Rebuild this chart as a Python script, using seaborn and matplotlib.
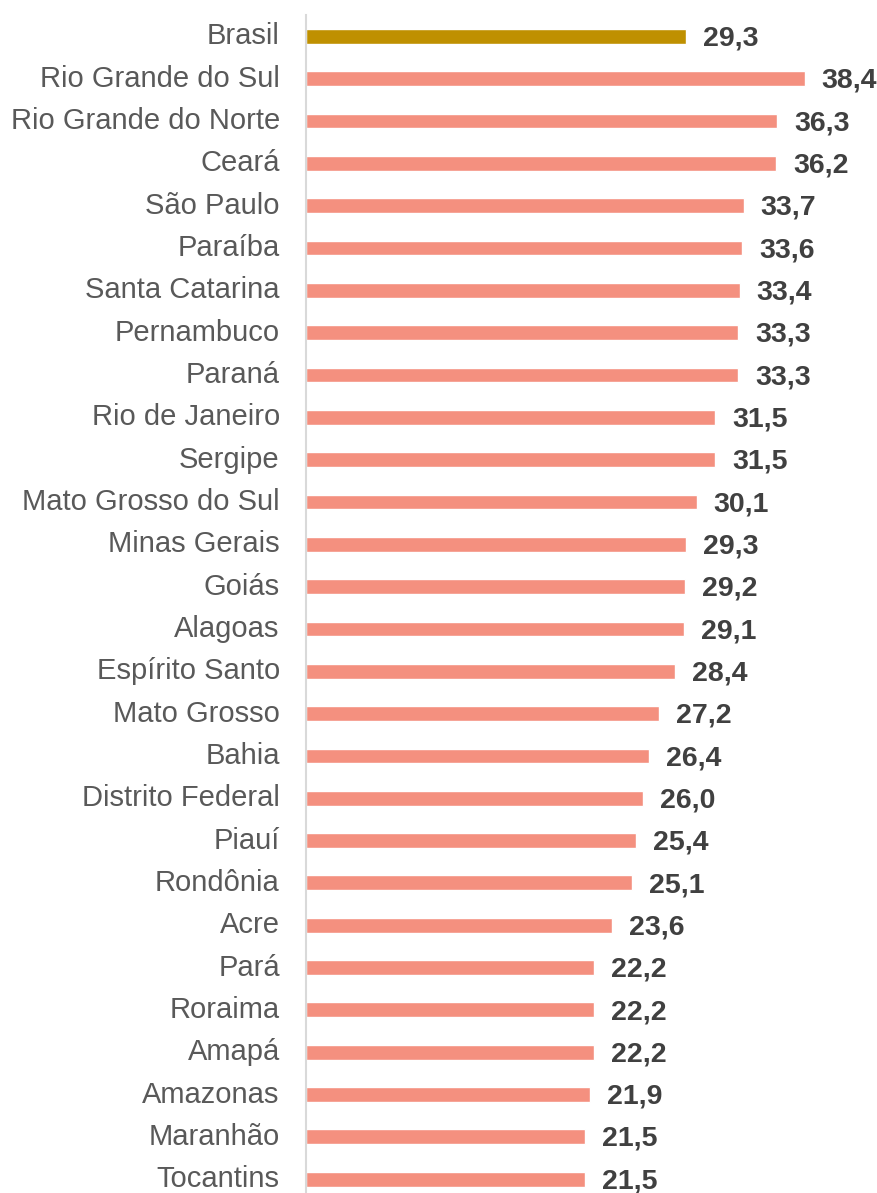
import matplotlib
matplotlib.use("Agg")
import matplotlib.pyplot as plt
import matplotlib.transforms as mtransforms
import seaborn as sns
import pandas as pd

# ---------- Data ----------
states = [
    "Brasil", "Rio Grande do Sul", "Rio Grande do Norte", "Ceará", "São Paulo",
    "Paraíba", "Santa Catarina", "Pernambuco", "Paraná", "Rio de Janeiro",
    "Sergipe", "Mato Grosso do Sul", "Minas Gerais", "Goiás", "Alagoas",
    "Espírito Santo", "Mato Grosso", "Bahia", "Distrito Federal", "Piauí",
    "Rondônia", "Acre", "Pará", "Roraima", "Amapá", "Amazonas", "Maranhão",
    "Tocantins",
]
values = [
    29.3, 38.4, 36.3, 36.2, 33.7, 33.6, 33.4, 33.3, 33.3, 31.5,
    31.5, 30.1, 29.3, 29.2, 29.1, 28.4, 27.2, 26.4, 26.0, 25.4,
    25.1, 23.6, 22.2, 22.2, 22.2, 21.9, 21.5, 21.5,
]
group = ["Brasil" if s == "Brasil" else "UF" for s in states]

BRASIL_COLOR = "#BF9000"
UF_COLOR = "#F4907F"

df = pd.DataFrame({"state": states, "value": values, "group": group})

sns.set_theme(style="white")
plt.rcParams["font.family"] = ["Liberation Sans", "DejaVu Sans"]

W, H = 878, 1193
fig = plt.figure(figsize=(W / 100, H / 100), dpi=100)

# axes placement in pixels: data x=0 at 306 px, row centres at 36.3 + 42.33*i
row_h = 42.33
top_px = 36.3 - row_h / 2
bot_px = top_px + row_h * len(states)
ax = fig.add_axes([305.5 / W, 1 - bot_px / H, 1 - 305.5 / W, (bot_px - top_px) / H])

sns.barplot(data=df, x="value", y="state", hue="group", orient="h",
            palette={"Brasil": BRASIL_COLOR, "UF": UF_COLOR},
            width=0.35, dodge=False, legend=False, ax=ax, saturation=1)

ax.set_xlim(0, (W - 305.5) / 13.0)
ax.set_ylim(len(states) - 0.5, -0.5)

for i, v in enumerate(values):
    ax.text(v + 1.3, i + 0.05, f"{v:.1f}".replace(".", ","), va="center", ha="left",
            fontsize=20.5, fontweight="bold", color="#404040")

ax.set_xlabel("")
ax.set_ylabel("")
ax.set_xticks([])
ax.tick_params(axis="y", length=0, pad=18.5, labelsize=21, labelcolor="#595959")

# nudge state names up a few pixels so they sit level with the bars
shift = mtransforms.ScaledTranslation(0, 3 / 100, fig.dpi_scale_trans)
for lbl in ax.get_yticklabels():
    lbl.set_transform(lbl.get_transform() + shift)

for side in ["top", "right", "bottom"]:
    ax.spines[side].set_visible(False)
ax.spines["left"].set_color("#D9D9D9")
ax.spines["left"].set_linewidth(1.5)
ax.set_facecolor("white")

fig.savefig("out.png", dpi=100, facecolor="white")
